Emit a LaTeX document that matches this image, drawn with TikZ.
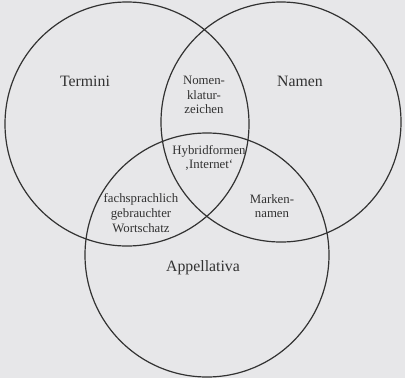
\documentclass[tikz,border=0pt]{standalone}
\usepackage{fontspec}
\setmainfont{Liberation Serif}
\definecolor{pagegray}{RGB}{231,231,233}
\definecolor{inkgray}{RGB}{50,50,50}
\usetikzlibrary{positioning}

\begin{document}
\begin{tikzpicture}[x=1pt,y=-1pt,
          set/.style={circle,draw=inkgray,line width=1.2pt,inner sep=0pt},
          big/.style={font=\fontsize{15.8}{19}\selectfont,text=inkgray},
          small/.style={font=\fontsize{12.8}{14.6}\selectfont,text=inkgray,align=center}]
        \fill[pagegray] (0,0) rectangle (405,378);
        \useasboundingbox (0,0) rectangle (405,378);
        \node[set,minimum size=244pt] (termcirc) at (127,124) {};
        \node[set,minimum size=240pt] (namecirc) at (281,122) {};
        \node[set,minimum size=244pt] (appcirc) at (207,255) {};
        \node[big] (termini) at (85,81) {Termini};
        \node[big] (namen) at (300,81) {Namen};
        \node[big] (appellativa) at (203,268) {Appellativa};
        \node[small] (nomenkl) at (204,95) {Nomen-\\klatur-\\zeichen};
        \node[small] (hybrid) at (209,158) {Hybridformen\\‚Internet‘};
        \node[small] (fachspr) at (141,213) {fachsprachlich\\gebrauchter\\Wortschatz};
        \node[small] (marken) at (272,206) {Marken-\\namen};
        \end{tikzpicture}
\end{document}
